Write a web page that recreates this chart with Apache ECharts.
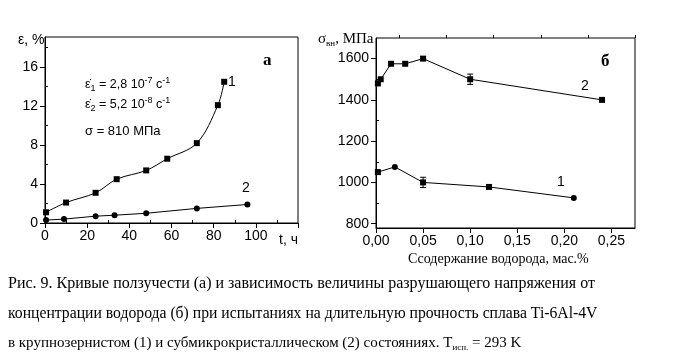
<!DOCTYPE html>
<html><head><meta charset="utf-8">
<script src="https://cdn.jsdelivr.net/npm/echarts@6/dist/echarts.min.js"></script>
<style>html,body{margin:0;padding:0;background:#fff}#c{width:673px;height:361px}</style>
</head><body><div id="c"></div>
<script>
// Panel a: creep curves
const tA1 = [0.5, 10, 24, 34, 48, 58, 72, 82, 85];
const eA1 = [1.1, 2.1, 3.1, 4.5, 5.4, 6.6, 8.2, 12.1, 14.5];
const tA2 = [0.5, 9, 24, 33, 48, 72, 96];
const eA2 = [0.3, 0.4, 0.7, 0.8, 1.0, 1.5, 1.9];
const ticksAX = [0, 20, 40, 60, 80, 100];
const ticksAY = [0, 4, 8, 12, 16];
// Panel b: fracture stress vs hydrogen content
const hB2 = [0.002, 0.005, 0.016, 0.031, 0.05, 0.10, 0.24];
const sB2 = [1480, 1500, 1575, 1575, 1600, 1500, 1400];
const hB1 = [0.002, 0.02, 0.05, 0.12, 0.21];
const sB1 = [1050, 1075, 1000, 978, 925];
const symB1 = ['rect', 'circle', 'rect', 'rect', 'circle'];
const errH = [0.10, 0.05];
const errS = [1500, 1000];
const errD = [25, 25];
const ticksBX = [0, 0.05, 0.10, 0.15, 0.20, 0.25];
const ticksBY = [800, 1000, 1200, 1400, 1600];

const sans = 'Liberation Sans, Arial, sans-serif';
const serif = 'Liberation Serif, Times New Roman, serif';
const black = '#000';

function zip(a, b) { return a.map((v, i) => [v, b[i]]); }
function minorOf(ticks, step, max) { const r = []; for (let v = ticks[0] + step / 2; v < max; v += step) r.push(+v.toFixed(4)); return r; }

function axis(opts) {
  return Object.assign({
    type: 'value', splitLine: { show: false },
    axisLine: { show: true, onZero: false, lineStyle: { color: black, width: 1 } },
    axisTick: { show: true, inside: false, length: 5, lineStyle: { color: black } },
    axisLabel: { color: black, fontFamily: sans, fontSize: 14 }
  }, opts);
}
function minorAxis(opts, vals) {
  return Object.assign({
    type: 'value', splitLine: { show: false },
    axisLine: { show: false },
    axisTick: { show: true, length: 3, customValues: vals, lineStyle: { color: black } },
    axisLabel: { show: false }
  }, opts);
}

const chart = echarts.init(document.getElementById('c'), null, { renderer: 'canvas' });
const gA = { left: 45, top: 37, right: 375, bottom: 138, show: true, borderColor: black, borderWidth: 1 };
const gB = { left: 376, top: 38, right: 38, bottom: 133, show: true, borderColor: black, borderWidth: 1 };

const option = {
  animation: false,
  grid: [gA, gB],
  xAxis: [
    axis({ gridIndex: 0, min: 0, max: 120, axisTick: { length: 5, customValues: ticksAX.concat([120]), lineStyle: { color: black } }, axisLabel: { color: black, fontFamily: sans, fontSize: 14, customValues: ticksAX, margin: 6 } }),
    axis({ gridIndex: 1, min: 0, max: 0.275, axisTick: { length: 5, customValues: ticksBX, lineStyle: { color: black } }, axisLabel: { color: black, fontFamily: sans, fontSize: 14, customValues: ticksBX, margin: 6, formatter: v => v.toFixed(2).replace('.', ',') } }),
    minorAxis({ gridIndex: 0, min: 0, max: 120 }, minorOf(ticksAX, 20, 120)),
    minorAxis({ gridIndex: 1, min: 0, max: 0.275 }, minorOf(ticksBX, 0.05, 0.275))
  ],
  yAxis: [
    axis({ gridIndex: 0, min: 0, max: 19.1, axisTick: { length: 5, customValues: ticksAY, lineStyle: { color: black } }, axisLabel: { color: black, fontFamily: sans, fontSize: 14, customValues: ticksAY, margin: 7 } }),
    axis({ gridIndex: 1, min: 779, max: 1700, axisTick: { length: 5, customValues: ticksBY, lineStyle: { color: black } }, axisLabel: { color: black, fontFamily: sans, fontSize: 14, customValues: ticksBY, margin: 7, formatter: v => String(v) } }),
    minorAxis({ gridIndex: 0, min: 0, max: 19.1 }, minorOf(ticksAY, 4, 19.1)),
    minorAxis({ gridIndex: 1, min: 779, max: 1700 }, minorOf(ticksBY, 200, 1700))
  ],
  series: [
    { type: 'line', xAxisIndex: 0, yAxisIndex: 0, data: zip(tA1, eA1), smooth: 0.35, symbol: 'rect', symbolSize: 6, showSymbol: true, lineStyle: { color: black, width: 1 }, itemStyle: { color: black } },
    { type: 'line', xAxisIndex: 0, yAxisIndex: 0, data: zip(tA2, eA2), symbol: 'circle', symbolSize: 6, lineStyle: { color: black, width: 1 }, itemStyle: { color: black } },
    { type: 'line', xAxisIndex: 1, yAxisIndex: 1, data: zip(hB2, sB2), symbol: 'rect', symbolSize: 6, lineStyle: { color: black, width: 1 }, itemStyle: { color: black } },
    { type: 'line', xAxisIndex: 1, yAxisIndex: 1, data: hB1.map((h, i) => ({ value: [h, sB1[i]], symbol: symB1[i] })), symbolSize: 6, lineStyle: { color: black, width: 1 }, itemStyle: { color: black } },
    { type: 'custom', xAxisIndex: 1, yAxisIndex: 1, data: errH.map((h, i) => [h, errS[i], errD[i]]),
      renderItem: function (params, api) {
        const x = api.value(0), y = api.value(1), d = api.value(2);
        const p1 = api.coord([x, y + d]), p2 = api.coord([x, y - d]);
        const w = 3;
        return { type: 'group', children: [
          { type: 'line', shape: { x1: p1[0], y1: p1[1], x2: p2[0], y2: p2[1] }, style: { stroke: black, lineWidth: 1 } },
          { type: 'line', shape: { x1: p1[0] - w, y1: p1[1], x2: p1[0] + w, y2: p1[1] }, style: { stroke: black, lineWidth: 1 } },
          { type: 'line', shape: { x1: p2[0] - w, y1: p2[1], x2: p2[0] + w, y2: p2[1] }, style: { stroke: black, lineWidth: 1 } }
        ] };
      } }
  ],
  graphic: [
    { type: 'text', left: 18, top: 33, style: { text: 'ε, %', font: '14px ' + sans, fill: black } },
    { type: 'text', left: 279, top: 233, style: { text: 't, ч', font: '14px ' + sans, fill: black } },
    { type: 'text', left: 263, top: 52, style: { text: 'а', font: 'bold 17px ' + serif, fill: black } },
    { type: 'text', left: 228, top: 75, style: { text: '1', font: '14px ' + sans, fill: black } },
    { type: 'text', left: 242, top: 181, style: { text: '2', font: '14px ' + sans, fill: black } },
    { type: 'text', left: 85, top: 76, style: { text: '{a|ε̇}{s|1}{a| = 2,8 10}{u|-7}{a| c}{u|-1}', rich: { a: { font: '12.5px ' + sans, fill: black }, s: { font: '9px ' + sans, fill: black, padding: [8, 0, 0, 0] }, u: { font: '9px ' + sans, fill: black, padding: [0, 0, 8, 0] } } } },
    { type: 'text', left: 85, top: 96, style: { text: '{a|ε̇}{s|2}{a| = 5,2 10}{u|-8}{a| c}{u|-1}', rich: { a: { font: '12.5px ' + sans, fill: black }, s: { font: '9px ' + sans, fill: black, padding: [8, 0, 0, 0] }, u: { font: '9px ' + sans, fill: black, padding: [0, 0, 8, 0] } } } },
    { type: 'text', left: 85, top: 125, style: { text: 'σ = 810 МПа', font: '13px ' + sans, fill: black } },
    { type: 'text', left: 318, top: 32, style: { text: '{a|σ}{s|вн}{a|, МПа}', rich: { a: { font: '15px ' + serif, fill: black }, s: { font: '9px ' + serif, fill: black, padding: [8, 0, 0, 0] } } } },
    { type: 'text', left: 601, top: 53, style: { text: 'б', font: 'bold 17px ' + serif, fill: black } },
    { type: 'text', left: 581, top: 79, style: { text: '2', font: '14px ' + sans, fill: black } },
    { type: 'text', left: 557, top: 175, style: { text: '1', font: '14px ' + sans, fill: black } },
    { type: 'text', left: 408, top: 252, style: { text: 'Ссодержание водорода, мас.%', font: '14px ' + serif, fill: black } },
    { type: 'text', left: 8, top: 276, style: { text: 'Рис. 9. Кривые ползучести (а) и зависимость величины разрушающего напряжения от', font: '16px ' + serif, fill: black } },
    { type: 'text', left: 8, top: 306, style: { text: 'концентрации водорода (б) при испытаниях на длительную прочность сплава Ti-6Al-4V', font: '15.7px ' + serif, fill: black } },
    { type: 'text', left: 8, top: 336, style: { text: '{a|в крупнозернистом (1) и субмикрокристаллическом (2) состояниях. T}{s|исп.}{a| = 293 K}', rich: { a: { font: '15px ' + serif, fill: black }, s: { font: '9px ' + serif, fill: black, padding: [9, 0, 0, 0] } } } }
  ]
};
chart.setOption(option);
</script></body></html>
